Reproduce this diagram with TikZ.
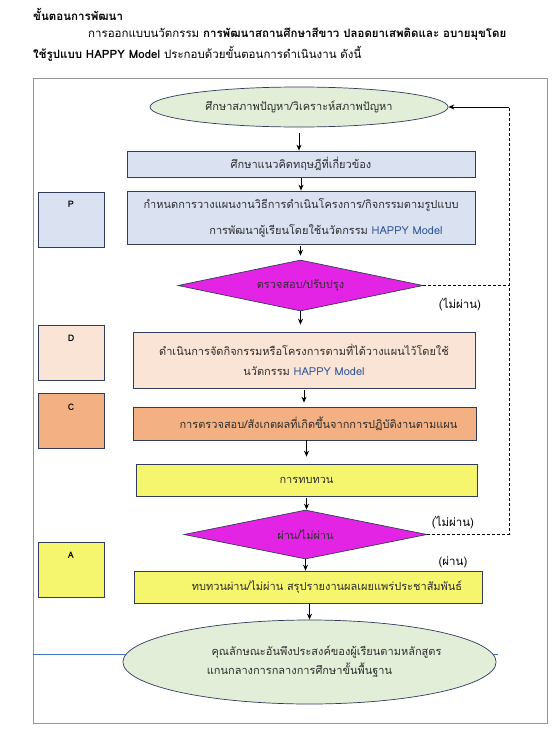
\documentclass[tikz,border=0pt]{standalone}
\usepackage{fontspec}
\setmainfont[Script=Thai]{Loma}
\usetikzlibrary{shapes.geometric,arrows.meta}
\definecolor{frameg}{RGB}{150,150,150}
\definecolor{edge}{RGB}{50,60,90}
\definecolor{egreen}{RGB}{226,238,216}
\definecolor{lblue}{RGB}{218,226,242}
\definecolor{peach}{RGB}{250,228,213}
\definecolor{orng}{RGB}{243,176,130}
\definecolor{ylw}{RGB}{246,246,110}
\definecolor{mag}{RGB}{228,36,228}
\definecolor{txt}{RGB}{45,45,45}
\definecolor{hblue}{RGB}{47,85,151}
\definecolor{lineblue}{RGB}{68,114,196}
\tikzset{
  box/.style={draw=edge, line width=0.7pt, rectangle, inner sep=0pt, text=txt, font=\fontsize{11}{14}\selectfont, align=center},
  oval/.style={draw=edge, line width=0.7pt, ellipse, fill=egreen, inner sep=0pt, text=txt, font=\fontsize{11}{14}\selectfont, align=center},
  dia/.style={draw=edge, line width=0.7pt, diamond, aspect=4.8, fill=mag, inner sep=0pt, text=txt, font=\fontsize{11}{12}\selectfont},
  tag/.style={draw=edge, line width=0.7pt, rectangle, inner sep=0pt, minimum width=66pt, minimum height=55pt},
  tagtxt/.style={font=\bfseries\fontsize{9}{10}\selectfont, text=black},
  arr/.style={-{Stealth[length=6pt,width=5pt]}, line width=1pt, black},
  loop/.style={dashed, line width=0.8pt, black, dash pattern=on 3pt off 2pt},
  note/.style={font=\fontsize{11.5}{12}\selectfont, text=black},
  hdr/.style={font=\fontsize{11.5}{13}\selectfont, text=black, anchor=west, inner sep=0pt},
  hl/.style={text=hblue}
}
\begin{document}
\begin{tikzpicture}[x=1pt,y=-1pt]
\useasboundingbox (0,0) rectangle (555,731);
\fill[white] (0,0) rectangle (555,731);
% header
\node[hdr] (h1) at (33,14) {\bfseries ขั้นตอนการพัฒนา};
\node[hdr] (h2) at (88,34) {การออกแบบนวัตกรรม \textbf{การพัฒนาสถานศึกษาสีขาว ปลอดยาเสพติดและ อบายมุขโดย}};
\node[hdr] (h3) at (33,54) {\textbf{ใช้รูปแบบ HAPPY Model} ประกอบด้วยขั้นตอนการดำเนินงาน ดังนี้};
% frame
\draw[frameg, line width=0.8pt] (33,78) rectangle (547,723);
% blue line behind bottom ellipse
\draw[lineblue, line width=0.7pt] (33,654) -- (498,654);
% main flow
\node[oval, minimum width=298pt, minimum height=40pt] (e1) at (299,107) {ศึกษาสภาพปัญหา/วิเคราะห์สภาพปัญหา};
\node[box, fill=lblue, minimum width=348pt, minimum height=26pt] (b2) at (301,164) {ศึกษาแนวคิดทฤษฎีที่เกี่ยวข้อง};
\node[box, fill=lblue, minimum width=348pt, minimum height=53pt, font=\fontsize{11}{26}\selectfont] (b3) at (301,217.5) {กำหนดการวางแผนงานวิธีการดำเนินโครงการ/กิจกรรมตามรูปแบบ\\\hspace*{50pt}การพัฒนาผู้เรียนโดยใช้นวัตกรรม \textcolor{hblue}{HAPPY Model}};
\node[dia, minimum width=245pt, minimum height=51pt] (d1) at (300.5,285.5) {ตรวจสอบ/ปรับปรุง};
\node[box, fill=peach, minimum width=342pt, minimum height=56pt, font=\fontsize{11}{20}\selectfont] (bd) at (304,360) {ดำเนินการจัดกิจกรรมหรือโครงการตามที่ได้วางแผนไว้โดยใช้\\นวัตกรรม \textcolor{hblue}{HAPPY Model}};
\node[box, fill=orng, minimum width=343pt, minimum height=33pt] (bc) at (304.5,423.5) {\hspace*{28pt}การตรวจสอบ/สังเกตผลที่เกิดขึ้นจากการปฏิบัติงานตามแผน};
\node[box, fill=ylw, minimum width=341pt, minimum height=32pt] (br) at (306.5,480) {การทบทวน};
\node[dia, minimum width=243pt, minimum height=49pt] (d2) at (305.5,534.5) {ผ่าน/ไม่ผ่าน};
\node[box, fill=ylw, minimum width=348pt, minimum height=32pt] (ba) at (308,587) {\hspace*{38pt}ทบทวนผ่าน/ไม่ผ่าน สรุปรายงานผลเผยแพร่ประชาสัมพันธ์};
\node[oval, minimum width=361pt, minimum height=84pt, font=\fontsize{11}{19}\selectfont] (e2) at (309.5,662) {\hspace*{34pt}คุณลักษณะอันพึงประสงค์ของผู้เรียนตามหลักสูตร\\แกนกลางการกลางการศึกษาขั้นพื้นฐาน\hspace*{20pt}};
% PDCA tags
\node[tag, fill=lblue] (tp) at (71,219.5) {};
\node[tagtxt] (tpl) at (71,204) {P};
\node[tag, fill=peach] (td) at (71,353) {};
\node[tagtxt] (tdl) at (71,338) {D};
\node[tag, fill=orng] (tc) at (71,420.5) {};
\node[tagtxt] (tcl) at (71,407) {C};
\node[tag, fill=ylw] (ta) at (71,569.5) {};
\node[tagtxt] (tal) at (71,555) {A};
% notes
\node[note] (n1) at (460,305) {(ไม่ผ่าน)};
\node[note] (n2) at (453,523) {(ไม่ผ่าน)};
\node[note] (n3) at (453,562) {(ผ่าน)};
% arrows
\draw[arr, shorten <=6pt] (e1.south) -- (e1.south |- b2.north);
\draw[arr, shorten <=1pt] (b2.south) -- (b2.south |- b3.north);
\draw[arr, shorten <=2pt, shorten >=4pt] (b3.south -| d1.north) -- (d1.north);
\draw[arr, shorten >=7pt] (d1.south) -- (d1.south |- bd.north);
\draw[arr, shorten <=2pt, shorten >=4pt] (bd.south) -- (bd.south |- bc.north);
\draw[arr, shorten >=7pt] (bc.south -| br.north) -- (br.north);
\draw[arr, shorten <=2pt] (br.south) -- (br.south |- d2.north);
\draw[arr] (d2.south) -- (d2.south |- ba.north);
\draw[arr, shorten <=1pt] (ba.south -| e2.north) -- (e2.north);
% dashed loop back
\coordinate (cx) at (509,300);
\draw[loop] (d1.east) -- (d1.east -| cx);
\draw[loop] (d2.east) -- (d2.east -| cx) -- (cx |- e1.east);
\draw[arr, line width=0.9pt] (cx |- e1.east) -- (e1.east);
\end{tikzpicture}
\end{document}
